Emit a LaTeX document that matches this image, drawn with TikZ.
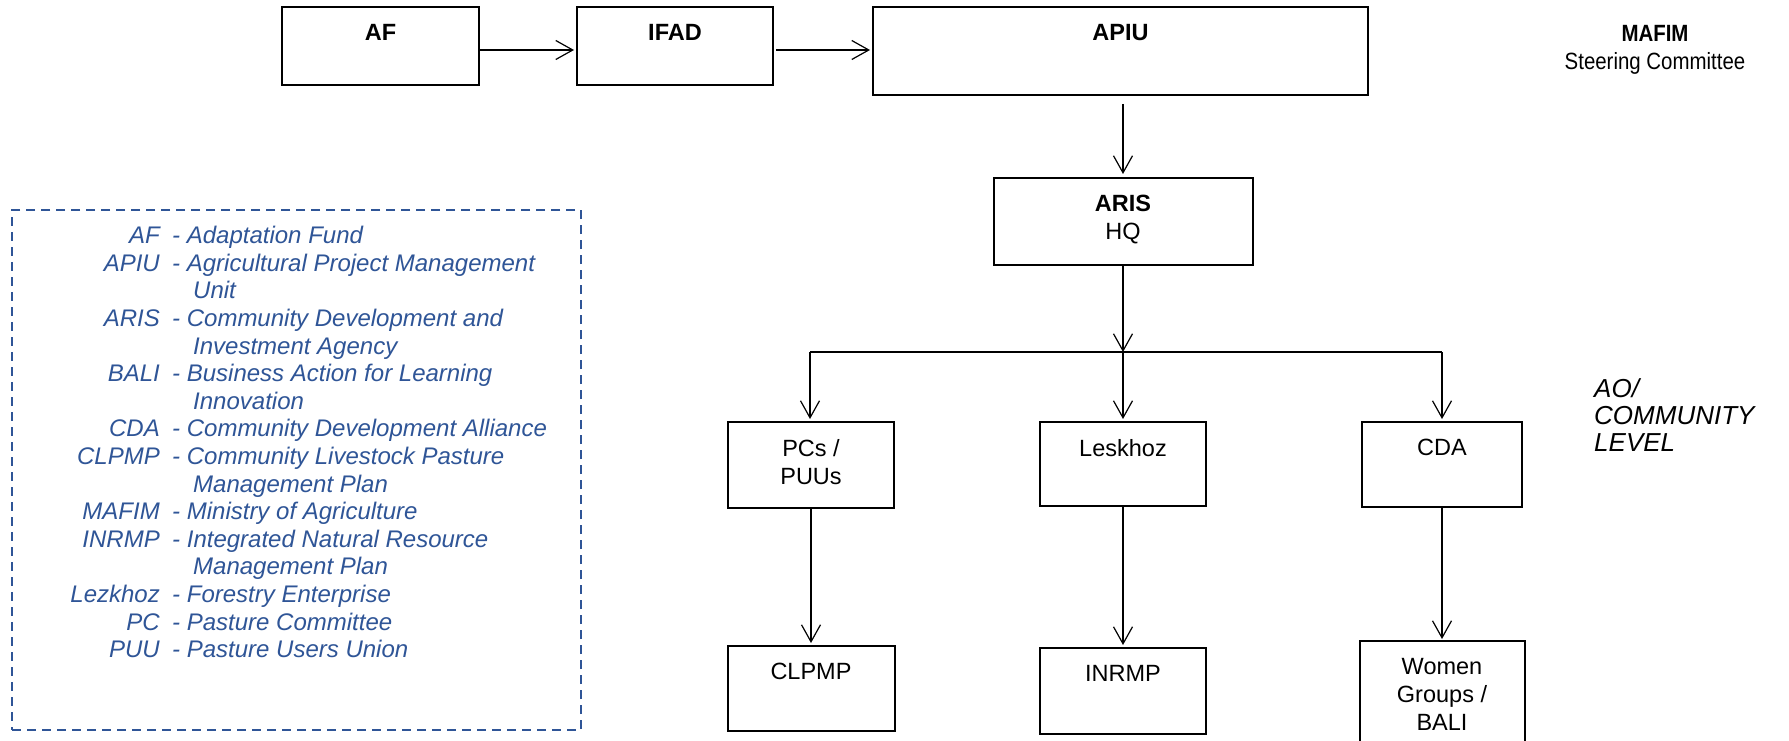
\documentclass[tikz,border=0pt]{standalone}
\usepackage{fontspec}
\setmainfont{Liberation Sans}
\newfontfamily\condfont[FakeStretch=0.87]{Liberation Sans}
\usetikzlibrary{arrows.meta}
\definecolor{legblue}{RGB}{47,85,151}
\newcommand\dfont{\fontsize{23.5}{28}\selectfont}
\newcommand\lfont{\fontsize{24}{27.6}\selectfont\itshape}
\begin{document}
\begin{tikzpicture}[x=1pt,y=-1pt,
  box/.style={draw, line width=2pt, inner sep=0pt, outer sep=0pt},
  boxlbl/.style={anchor=north, yshift=-17pt, inner sep=0pt, align=center, font=\dfont},
  txt/.style={inner sep=0pt, font=\dfont},
  leg/.style={inner sep=0pt, font=\lfont, text=legblue},
  arr/.style={line width=1.2pt, -{Straight Barb[length=17pt,width=19pt,line width=1.2pt]}},
  barline/.style={line width=2pt}]
\useasboundingbox (0,0) rectangle (1789,741);
\fill[white] (0,0) rectangle (1789,741);
\clip (0,0) rectangle (1789,741);
% top row
\node[box, minimum width=197, minimum height=78, label={[boxlbl]north:\textbf{AF}}] (af) at (380.5,46) {};
\node[box, minimum width=196, minimum height=78, label={[boxlbl]north:\textbf{IFAD}}] (ifad) at (675,46) {};
\node[box, minimum width=495, minimum height=88, label={[boxlbl]north:\textbf{APIU}}] (apiu) at (1120.5,51) {};
\node[txt, anchor=north, align=center, font=\condfont\dfont] (mafim) at (1655,25.6) {\textbf{MAFIM}\\Steering Committee};
% ARIS
\node[box, minimum width=259, minimum height=87, label={[boxlbl]north:{\textbf{ARIS}\\HQ}}] (aris) at (1123,221.5) {};
% middle row
\node[box, minimum width=166, minimum height=86, label={[boxlbl]north:{PCs /\\PUUs}}] (pcs) at (811,465) {};
\node[box, minimum width=166, minimum height=84, label={[boxlbl]north:{Leskhoz}}] (lesk) at (1123,464) {};
\node[box, minimum width=160, minimum height=85, label={[boxlbl]north:{CDA}}] (cda) at (1442,464.5) {};
\node[txt, anchor=north west, align=left, font=\fontsize{26}{27}\selectfont\itshape] (ao) at (1594,378.7) {AO/\\COMMUNITY\\LEVEL};
% bottom row
\node[box, minimum width=167, minimum height=85, label={[boxlbl]north:{CLPMP}}] (clpmp) at (811,688.5) {};
\node[box, minimum width=166, minimum height=86, label={[boxlbl]north:{INRMP}}] (inrmp) at (1123,691) {};
\node[box, minimum width=165, minimum height=130, label={[boxlbl]north:{Women\\Groups /\\BALI}}] (women) at (1442,706) {};
% connectors
\draw[arr, shorten >=3pt] ([yshift=-4pt]af.east) -- ([yshift=-4pt]ifad.west);
\draw[arr, shorten <=3pt, shorten >=3pt] ([yshift=-4pt]ifad.east) -- ([yshift=-4pt]ifad.east -| apiu.west);
\draw[arr, shorten <=9pt, shorten >=4pt] (apiu.south -| aris.north) -- (aris.north);
\coordinate (barL) at (810,352);
\coordinate (barR) at (1442,352);
\coordinate (barM) at (aris.south |- barL);
\draw[barline] (barL) -- (barR);
\draw[arr] (aris.south) -- (barM);
\draw[arr, shorten >=3pt] (barM) -- (lesk.north);
\draw[arr, shorten >=3pt] (barL) -- (barL |- pcs.north);
\draw[arr, shorten >=3pt] (barR) -- (cda.north);
\draw[arr, shorten >=3pt] (pcs.south) -- (pcs.south |- clpmp.north);
\draw[arr, shorten >=3pt] (lesk.south) -- (inrmp.north);
\draw[arr, shorten >=2pt] (cda.south) -- (women.north);
% legend
\node[draw=legblue, line width=2pt, dash pattern=on 9pt off 6pt, minimum width=569, minimum height=520, inner sep=0pt] (legend) at (296.5,470) {};
\foreach \r/\ab/\de in {0/AF/Adaptation Fund, 1/APIU/Agricultural Project Management, 3/ARIS/Community Development and, 5/BALI/Business Action for Learning, 7/CDA/Community Development Alliance, 8/CLPMP/Community Livestock Pasture, 10/MAFIM/Ministry of Agriculture, 11/INRMP/Integrated Natural Resource, 13/Lezkhoz/Forestry Enterprise, 14/PC/Pasture Committee, 15/PUU/Pasture Users Union}{
  \node[leg, anchor=base east] (ab\r) at (160,{243.6+27.6*\r}) {\ab};
  \node[leg, anchor=base west] (de\r) at (172,{243.6+27.6*\r}) {- \de};
}
\foreach \r/\de in {2/Unit, 4/Investment Agency, 6/Innovation, 9/Management Plan, 12/Management Plan}{
  \node[leg, anchor=base west] (ct\r) at (193,{243.6+27.6*\r}) {\de};
}
\end{tikzpicture}
\end{document}
